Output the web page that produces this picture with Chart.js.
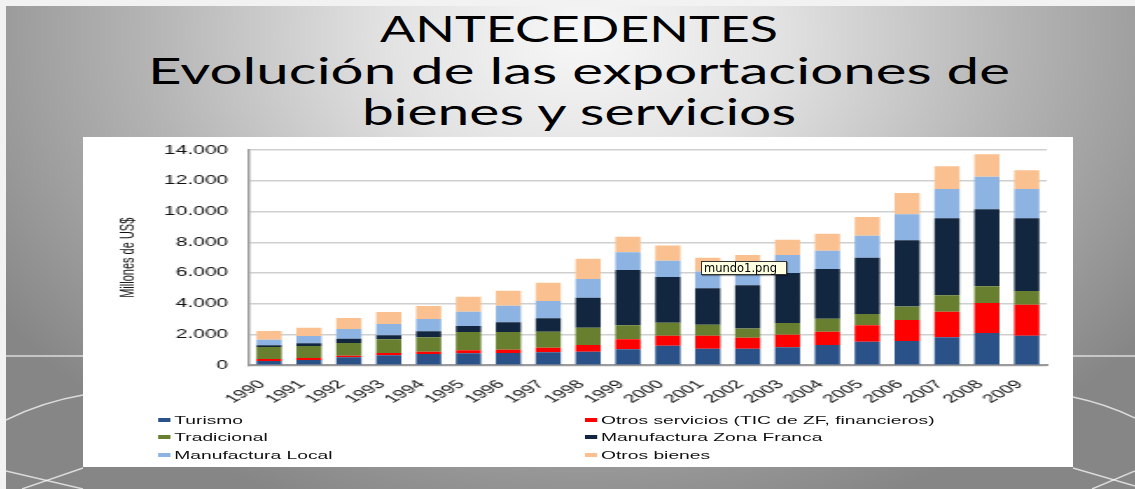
<!DOCTYPE html>
<html>
<head>
<meta charset="utf-8">
<script src="https://cdn.jsdelivr.net/npm/chart.js@4.4.1/dist/chart.umd.min.js"></script>
<style>
  body { margin: 0; width: 1135px; height: 489px; overflow: hidden; background: #f2f2f2; position: relative; }
  #slide { position: absolute; left: 6px; top: 6px; right: 0; bottom: 0;
    background: radial-gradient(ellipse 62% 105% at 51% 6%, #f7f7f7 0%, #e2e2e2 28%, #b4b4b4 62%, #868686 100%); }
  #deco { position: absolute; left: 0; top: 0; }
  .tline { position: absolute; left: 0; width: 1158px; text-align: center;
    font-family: Lato, "Open Sans", sans-serif; font-size: 37px; line-height: 41.5px; color: #000;
    transform-origin: 579px 0; white-space: nowrap; }
  #panel { position: absolute; left: 83px; top: 137px; width: 990px; height: 330px; background: #fff; overflow: hidden; }
  #inner { position: absolute; left: 0; top: 0; width: 566px; height: 330px; transform: scaleX(1.749); transform-origin: 0 0; }
  #myChart { position: absolute; left: 0; top: -6.2px; }
  #legend { position: absolute; left: 42.9px; top: 274.7px; display: grid; grid-template-columns: 244px auto;
    font-family: "Liberation Sans", Arial, sans-serif; font-size: 11px; color: #111; }
  .item { height: 17.5px; line-height: 17.5px; white-space: nowrap; }
  .box { display: inline-block; width: 7px; height: 4px; margin-right: 2.3px; vertical-align: middle; position: relative; top: -1px; }
  #tip { position: absolute; left: 701px; top: 261px; width: 82px; height: 12px; background: #ffffe1; border: 1px solid #333;
    font-family: "DejaVu Sans", sans-serif; font-size: 11.5px; line-height: 12px; color: #000; padding-left: 2px;
    box-shadow: 1px 1px 1px rgba(0,0,0,0.35); white-space: nowrap; }
</style>
</head>
<body>
<div id="slide"></div>
<svg id="deco" width="1135" height="489">
  <g stroke="rgba(255,255,255,0.7)" fill="none" stroke-width="1.4">
    <line x1="6" y1="356" x2="83" y2="356"/>
    <line x1="1073" y1="356" x2="1135" y2="356"/>
    <path d="M6 420 Q42 402 83 395"/>
    <path d="M1073 397 Q1106 404 1135 418"/>
    <path d="M6 471 L83 489"/>
    <path d="M22 489 L83 468"/>
    <path d="M1073 468 L1135 486"/>
    <path d="M1092 489 L1135 471"/>
  </g>
</svg>
<div class="tline" id="t1" style="top:7px">ANTECEDENTES</div>
<div class="tline" id="t2" style="top:48.5px">Evolución de las exportaciones de</div>
<div class="tline" id="t3" style="top:90px">bienes y servicios</div>
<div id="panel">
  <div id="inner">
    <canvas id="myChart" width="566" height="278"></canvas>
    <div id="legend"></div>
  </div>
</div>
<div id="tip">mundo1.png</div>
<script>
// datos (millones de US$)
const years = ['1990','1991','1992','1993','1994','1995','1996','1997','1998','1999',
               '2000','2001','2002','2003','2004','2005','2006','2007','2008','2009'];
const turismo        = [280, 345, 520, 650, 735, 780, 800, 845, 885, 1040, 1275, 1080, 1080, 1170, 1320, 1535, 1580, 1825, 2100, 1925];
const otrosServicios = [130, 130, 105, 150, 150, 195, 215, 300, 435, 650, 650, 845, 715, 820, 865, 1070, 1365, 1665, 1955, 2020];
const tradicional    = [780, 780, 825, 890, 940, 1190, 1150, 1040, 1125, 910, 845, 715, 605, 760, 845, 735, 890, 1070, 1085, 890];
const manufZF        = [110, 175, 280, 260, 385, 390, 630, 870, 1950, 3600, 2975, 2370, 2805, 3255, 3235, 3665, 4300, 5010, 5015, 4735];
const manufLocal     = [365, 475, 630, 735, 805, 930, 1080, 1125, 1220, 1150, 1060, 1100, 1100, 1170, 1190, 1430, 1690, 1905, 2120, 1905];
const otrosBienes    = [565, 540, 715, 780, 845, 975, 975, 1190, 1320, 1015, 1000, 890, 875, 1000, 1110, 1220, 1385, 1480, 1460, 1220];
const yTickLabels = ['0', '2.000', '4.000', '6.000', '8.000', '10.000', '12.000', '14.000'];

const series = [
  { label: 'Turismo', data: turismo, color: '#2a5288' },
  { label: 'Otros servicios (TIC de ZF, financieros)', data: otrosServicios, color: '#ff0000' },
  { label: 'Tradicional', data: tradicional, color: '#677f2e' },
  { label: 'Manufactura Zona Franca', data: manufZF, color: '#13263f' },
  { label: 'Manufactura Local', data: manufLocal, color: '#8db3e2' },
  { label: 'Otros bienes', data: otrosBienes, color: '#fac08f' }
];

// titulo: cada linea estirada al ancho que tiene en la diapositiva
(function () {
  const c = document.createElement('canvas').getContext('2d');
  c.font = '37px Lato';
  [['t1', 398], ['t2', 862], ['t3', 437]].forEach(([id, target]) => {
    const el = document.getElementById(id);
    const w = c.measureText(el.textContent).width;
    el.style.transform = 'scaleX(' + (target / w) + ')';
  });
})();

const font = { family: '"Liberation Sans", Arial, sans-serif' };

const config = {
  type: 'bar',
  data: {
    labels: years,
    datasets: series.map(s => ({
      label: s.label,
      data: s.data,
      backgroundColor: s.color,
      borderWidth: 0,
      barPercentage: 0.63,
      categoryPercentage: 1
    }))
  },
  options: {
    responsive: false,
    animation: false,
    layout: { autoPadding: false, padding: { top: 13, left: 15, right: 15, bottom: 0 } },
    plugins: { legend: { display: false }, tooltip: { enabled: false } },
    scales: {
      x: {
        stacked: true,
        grid: { display: false, drawTicks: false },
        border: { display: true, color: '#9a9a9a', width: 2 },
        ticks: { color: '#111', font: { ...font, size: 12 }, minRotation: 45, maxRotation: 45, autoSkip: false,
                 padding: 12, labelOffset: -4 },
        afterFit: s => { s.height = 43.7; }
      },
      y: {
        stacked: true,
        min: 0,
        max: 14000,
        grid: { color: '#cfcfcf', lineWidth: 1.5, drawTicks: false },
        border: { color: '#9a9a9a', width: 1.5 },
        ticks: { stepSize: 2000, padding: 12, color: '#111', font: { ...font, size: 12 },
                 callback: (v, i) => yTickLabels[i] },
        title: { display: true, text: 'Millones de US$', color: '#111', font: { ...font, size: 11 }, padding: { top: 4, bottom: 4 } },
        afterFit: s => { s.width = 80; }
      }
    }
  }
};

const myChart = new Chart(document.getElementById('myChart'), config);

// leyenda en dos columnas como en el original
const legend = document.getElementById('legend');
series.forEach(s => {
  const it = document.createElement('div');
  it.className = 'item';
  it.innerHTML = '<span class="box" style="background:' + s.color + '"></span>';
  it.appendChild(document.createTextNode(s.label));
  legend.appendChild(it);
});
</script>
</body>
</html>
